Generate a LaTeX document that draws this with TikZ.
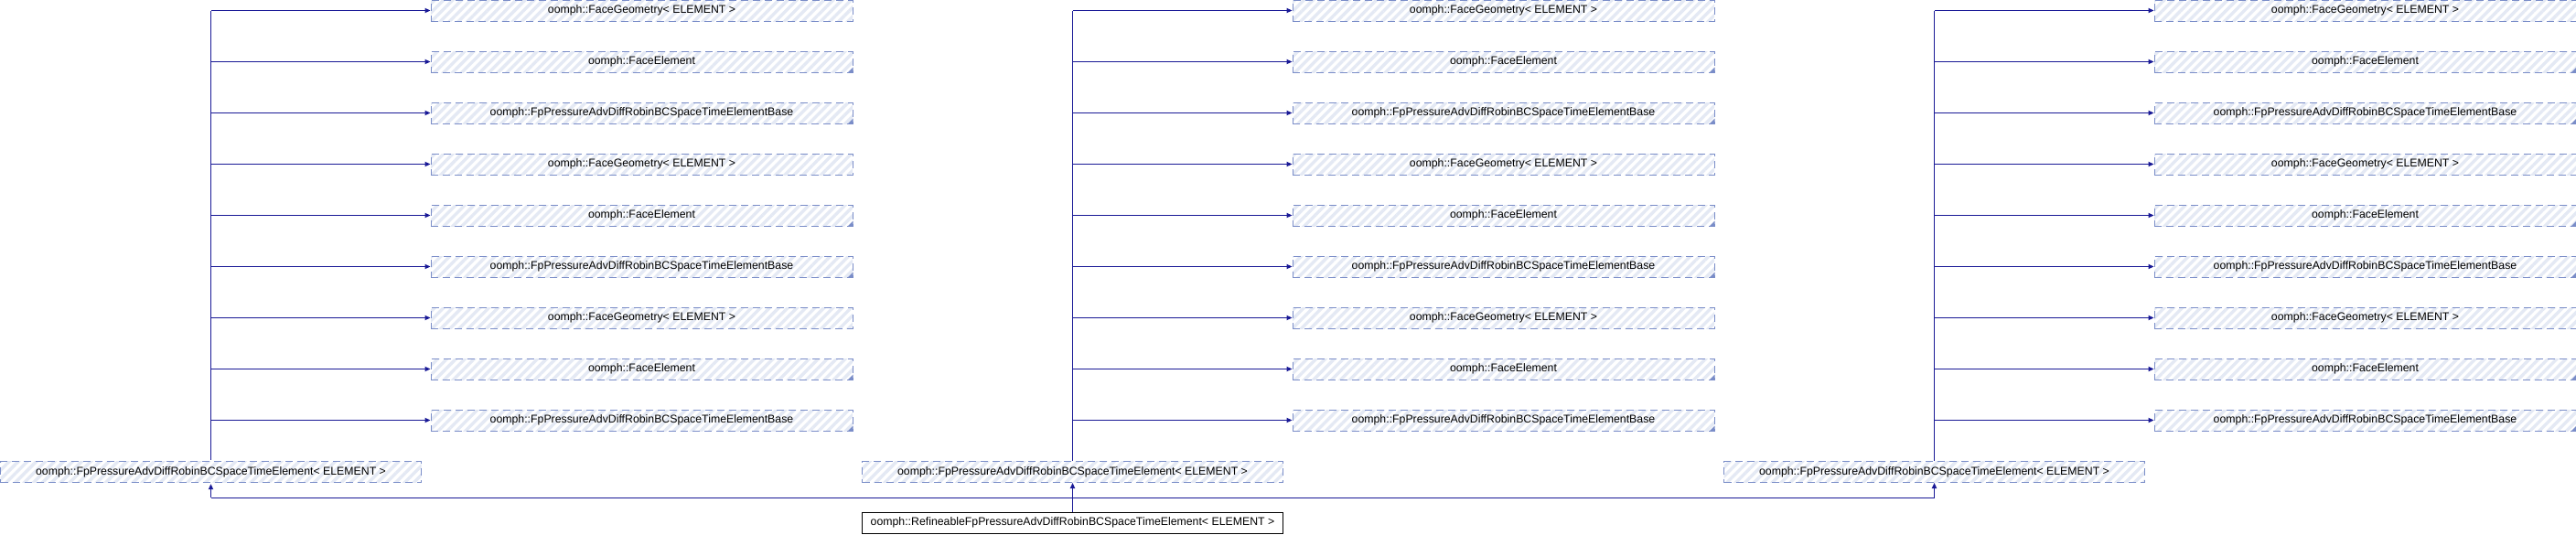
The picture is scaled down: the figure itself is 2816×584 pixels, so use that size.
\documentclass[tikz,border=0pt]{standalone}
\usepackage{fontspec}
\setmainfont{Liberation Sans}
\usetikzlibrary{arrows.meta,patterns.meta}
\definecolor{edgecol}{RGB}{25,25,150}
\definecolor{boxborder}{RGB}{122,141,200}
\definecolor{hatchcol}{RGB}{228,233,244}
\begin{document}
\begin{tikzpicture}[x=0.5pt,y=-0.5pt,
  cls/.style={rectangle, draw=boxborder, line width=0.5pt,
    dash pattern=on 4pt off 2.5pt,
    preaction={fill=white},
    pattern={Lines[angle=45,distance=3.5pt,line width=1.7pt]},
    pattern color=hatchcol,
    minimum height=11.5pt, inner sep=0pt,
    font=\fontsize{6.15}{7}\selectfont},
  topcls/.style={cls, minimum width=230.5pt},
  midcls/.style={cls, minimum width=230pt},
  refcls/.style={rectangle, draw=black, line width=0.5pt, fill=white,
    minimum width=230pt, minimum height=11.5pt, inner sep=0pt,
    font=\fontsize{6.15}{7}\selectfont},
  edgeline/.style={draw=edgecol, line width=0.65pt},
  edge/.style={edgeline, -{Triangle[length=3pt,width=2.6pt]}},
  fold/.style={fill=boxborder}]
\useasboundingbox (0,0) rectangle (2816,584);

\foreach \c/\bx/\tx in {0/230.5/701.5, 1/1172.5/1643.5, 2/2114.5/2585.5}{
  \node[midcls] (fp\c) at (\bx,516) {oomph::FpPressureAdvDiffRobinBCSpaceTimeElement< ELEMENT >};
  \foreach \r/\lab in {0/{oomph::FaceGeometry< ELEMENT >},
                       1/{oomph::FaceElement},
                       2/{oomph::FpPressureAdvDiffRobinBCSpaceTimeElementBase},
                       3/{oomph::FaceGeometry< ELEMENT >},
                       4/{oomph::FaceElement},
                       5/{oomph::FpPressureAdvDiffRobinBCSpaceTimeElementBase},
                       6/{oomph::FaceGeometry< ELEMENT >},
                       7/{oomph::FaceElement},
                       8/{oomph::FpPressureAdvDiffRobinBCSpaceTimeElementBase}}{
    \node[topcls] (t\c-\r) at (\tx,{11.5+56*\r}) {\lab};
    \draw[edge] (fp\c.north |- t\c-\r.west) -- (t\c-\r.west);
  }
  \draw[edgeline] (fp\c.north) -- (fp\c.north |- t\c-0.west);
  \foreach \r in {1,2,4,5,7,8}{
    \fill[fold] (t\c-\r.south east) -- ++(0,-6) -- ++(-6,6) -- cycle;
  }
}

\node[refcls] (ref) at (1172.5,571.7) {oomph::RefineableFpPressureAdvDiffRobinBCSpaceTimeElement< ELEMENT >};
\coordinate (bus) at (1172.5,544.3);
\draw[edge] (ref.north) -- (fp1.south);
\draw[edgeline] (bus -| fp0.south) -- (bus -| fp2.south);
\draw[edge] (bus -| fp0.south) -- (fp0.south);
\draw[edge] (bus -| fp2.south) -- (fp2.south);
\end{tikzpicture}
\end{document}
